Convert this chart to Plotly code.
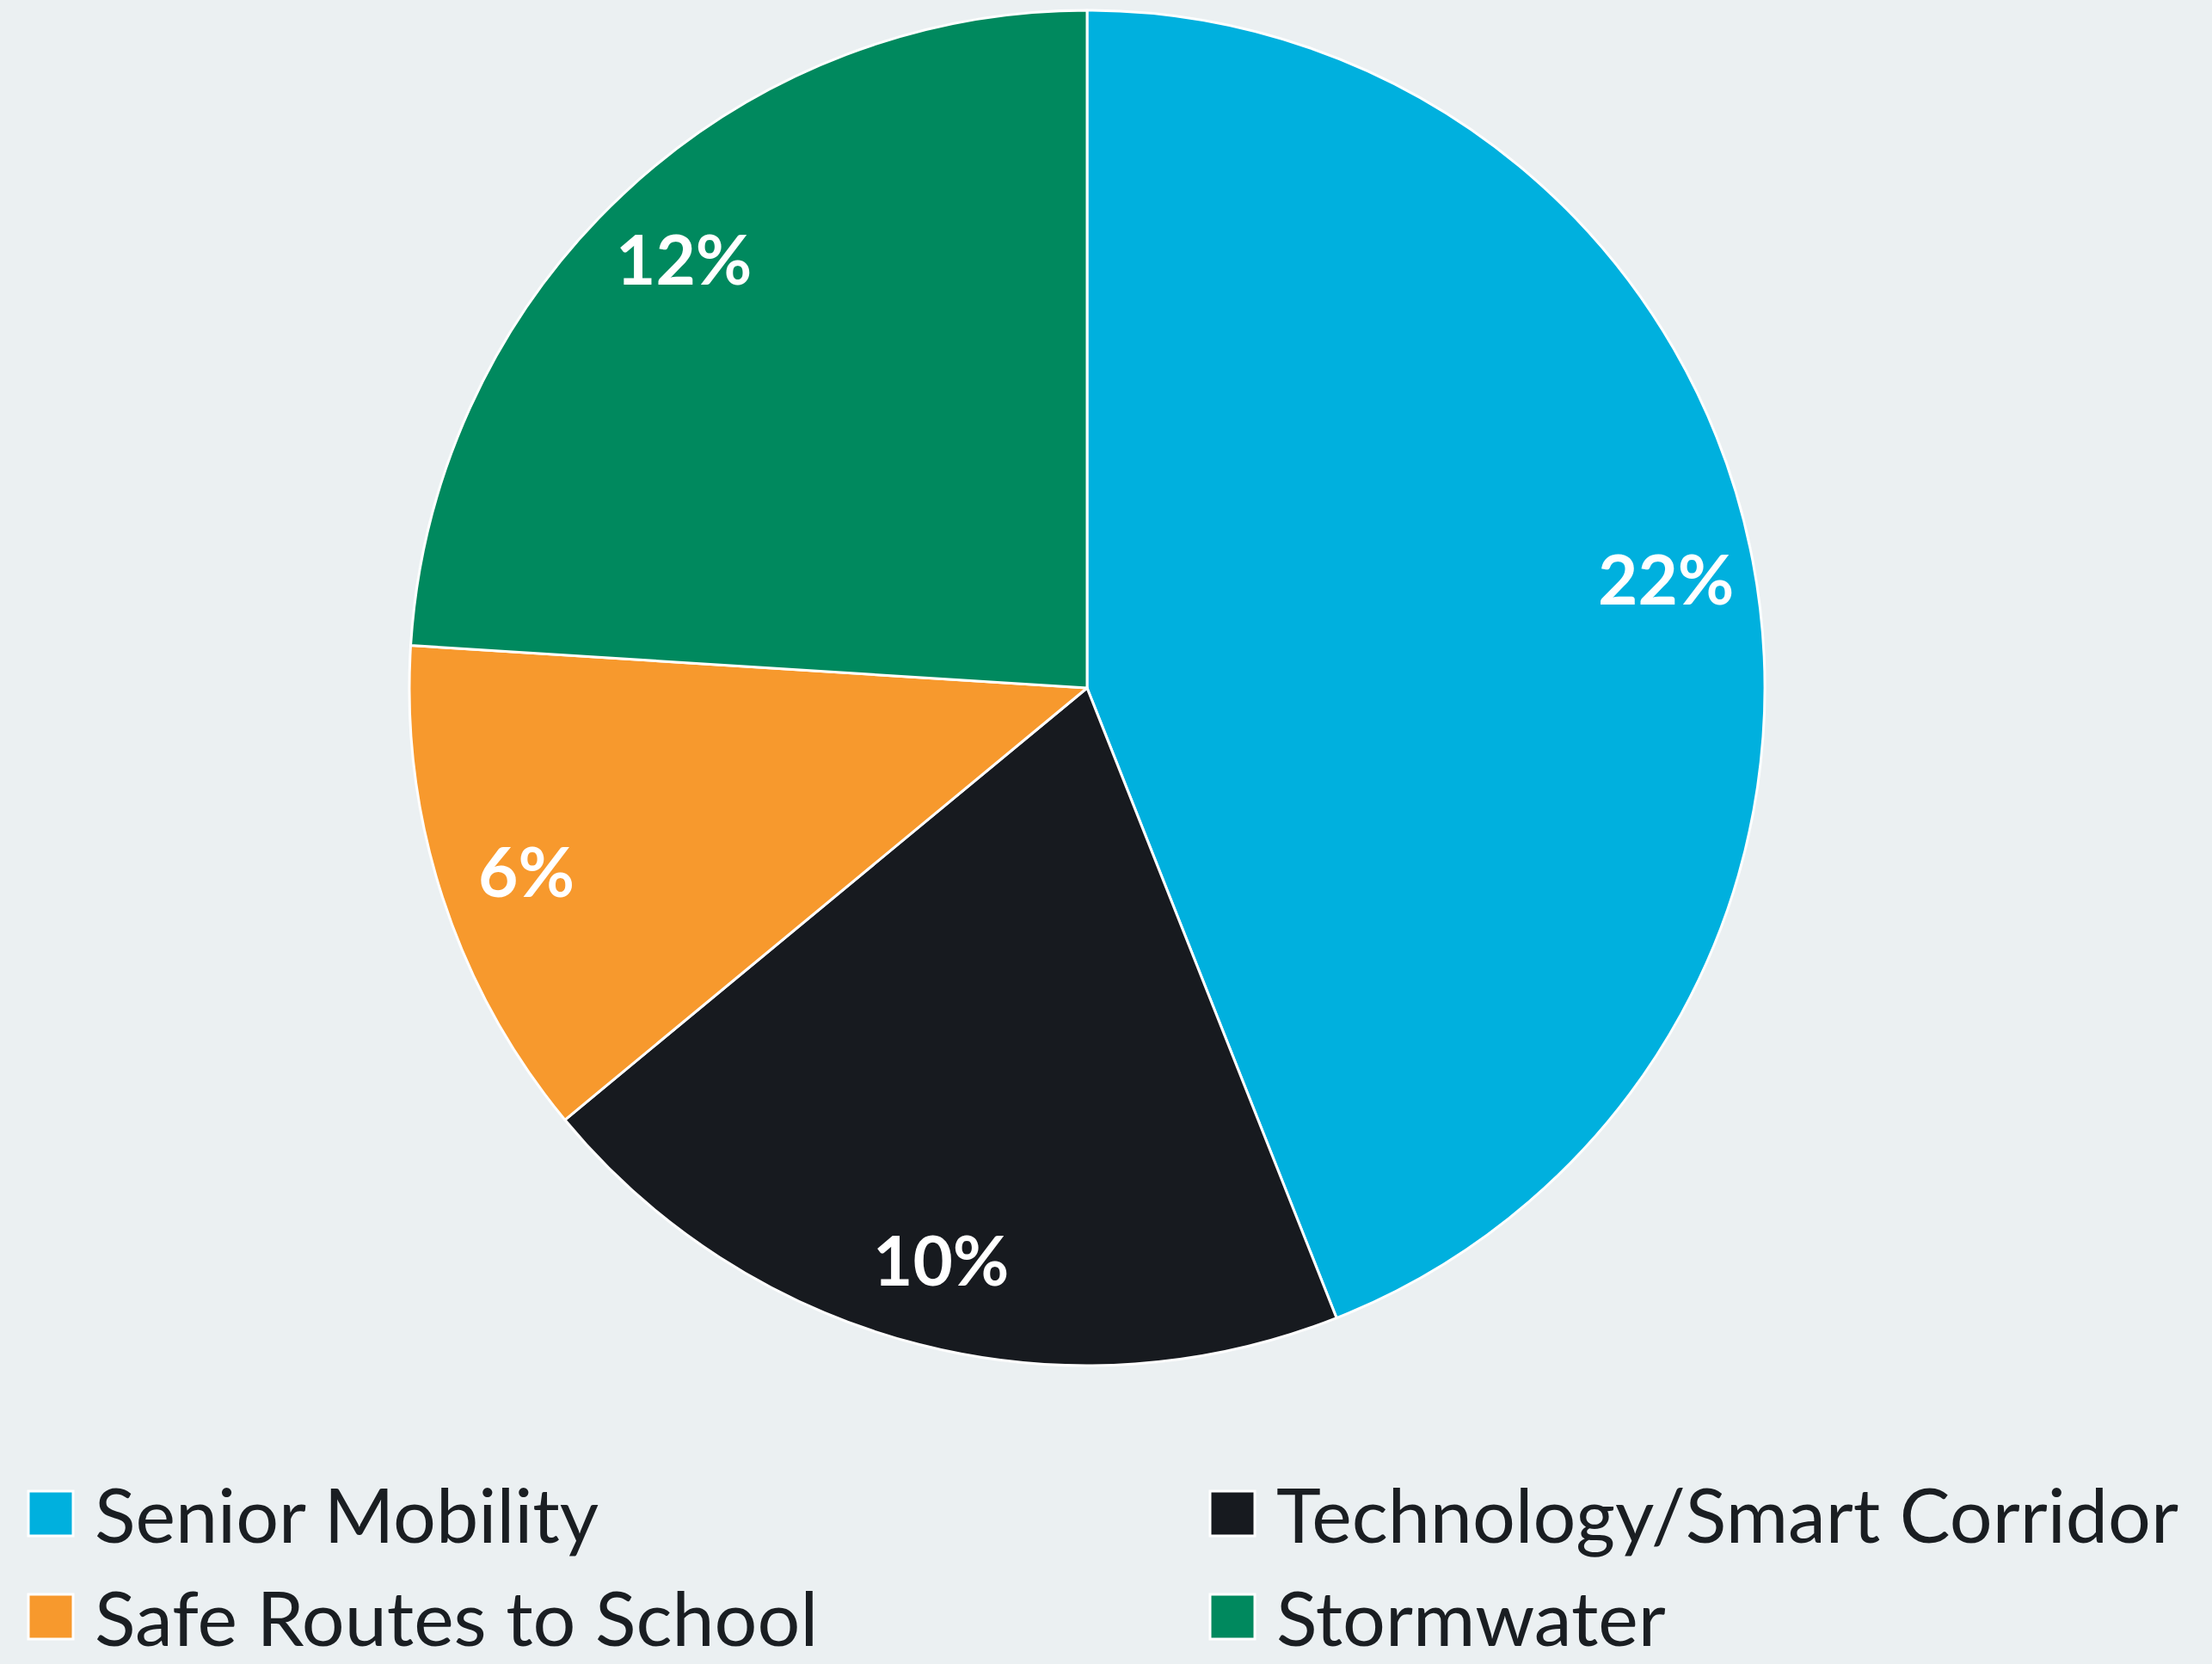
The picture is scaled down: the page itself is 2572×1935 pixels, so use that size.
import math
import plotly.graph_objects as go

categories = ["Senior Mobility", "Technology/Smart Corridor", "Safe Routes to School", "Stormwater"]
values = [22, 10, 6, 12]
labels_text = ["22%", "10%", "6%", "12%"]
colors = ["#00B0DE", "#171A1F", "#F7992D", "#00895E"]

W, H = 2572, 1935
BG = "#EBF0F2"
cx, cy_top, R = 1264, 800, 788  # pixels (y from top)

fig = go.Figure()
fig.add_trace(go.Pie(
    labels=categories, values=values, sort=False, direction="clockwise", rotation=0,
    marker=dict(colors=colors, line=dict(color="white", width=3)),
    textinfo="none", hoverinfo="label+value", showlegend=False,
    domain=dict(x=[(cx - R) / W, (cx + R) / W], y=[(H - cy_top - R) / H, (H - cy_top + R) / H]),
))

# data labels along each slice's mid-angle
total = sum(values)
cum = 0
annotations = []
for v, t in zip(values, labels_text):
    mid = (cum + v / 2) / total * 2 * math.pi
    cum += v
    px = cx + 0.87 * R * math.sin(mid)
    py = (H - cy_top) + 0.87 * R * math.cos(mid)
    annotations.append(dict(x=px / W, y=py / H, xref="paper", yref="paper", text=t,
                            showarrow=False, xanchor="center", yanchor="middle",
                            font=dict(family="Lato", size=80, color="white", weight="bold")))

# custom legend (2 columns x 2 rows)
shapes = []
col_x = [33, 1407]
row_y = [1760, 1880]
sq = 52
for i, (name, col) in enumerate(zip(categories, colors)):
    c, r = i % 2, i // 2
    x0 = col_x[c]
    yc = row_y[r]
    shapes.append(dict(type="rect", xref="paper", yref="paper",
                       x0=x0 / W, x1=(x0 + sq) / W, y0=(H - yc - sq / 2) / H, y1=(H - yc + sq / 2) / H,
                       fillcolor=col, line=dict(color="white", width=3)))
    annotations.append(dict(x=(x0 + sq + 24) / W, y=(H - yc) / H, xref="paper", yref="paper", text=name,
                            showarrow=False, xanchor="left", yanchor="middle", borderpad=0,
                            font=dict(family="Lato", size=88, color="#1A1E22")))

fig.update_layout(
    width=W, height=H, paper_bgcolor=BG, plot_bgcolor=BG,
    margin=dict(l=0, r=0, t=0, b=0), showlegend=False,
    annotations=annotations, shapes=shapes,
)
fig.write_html("out.html", config={"displayModeBar": False},
               post_script="document.body.style.margin='0';document.body.style.background='#EBF0F2';")
